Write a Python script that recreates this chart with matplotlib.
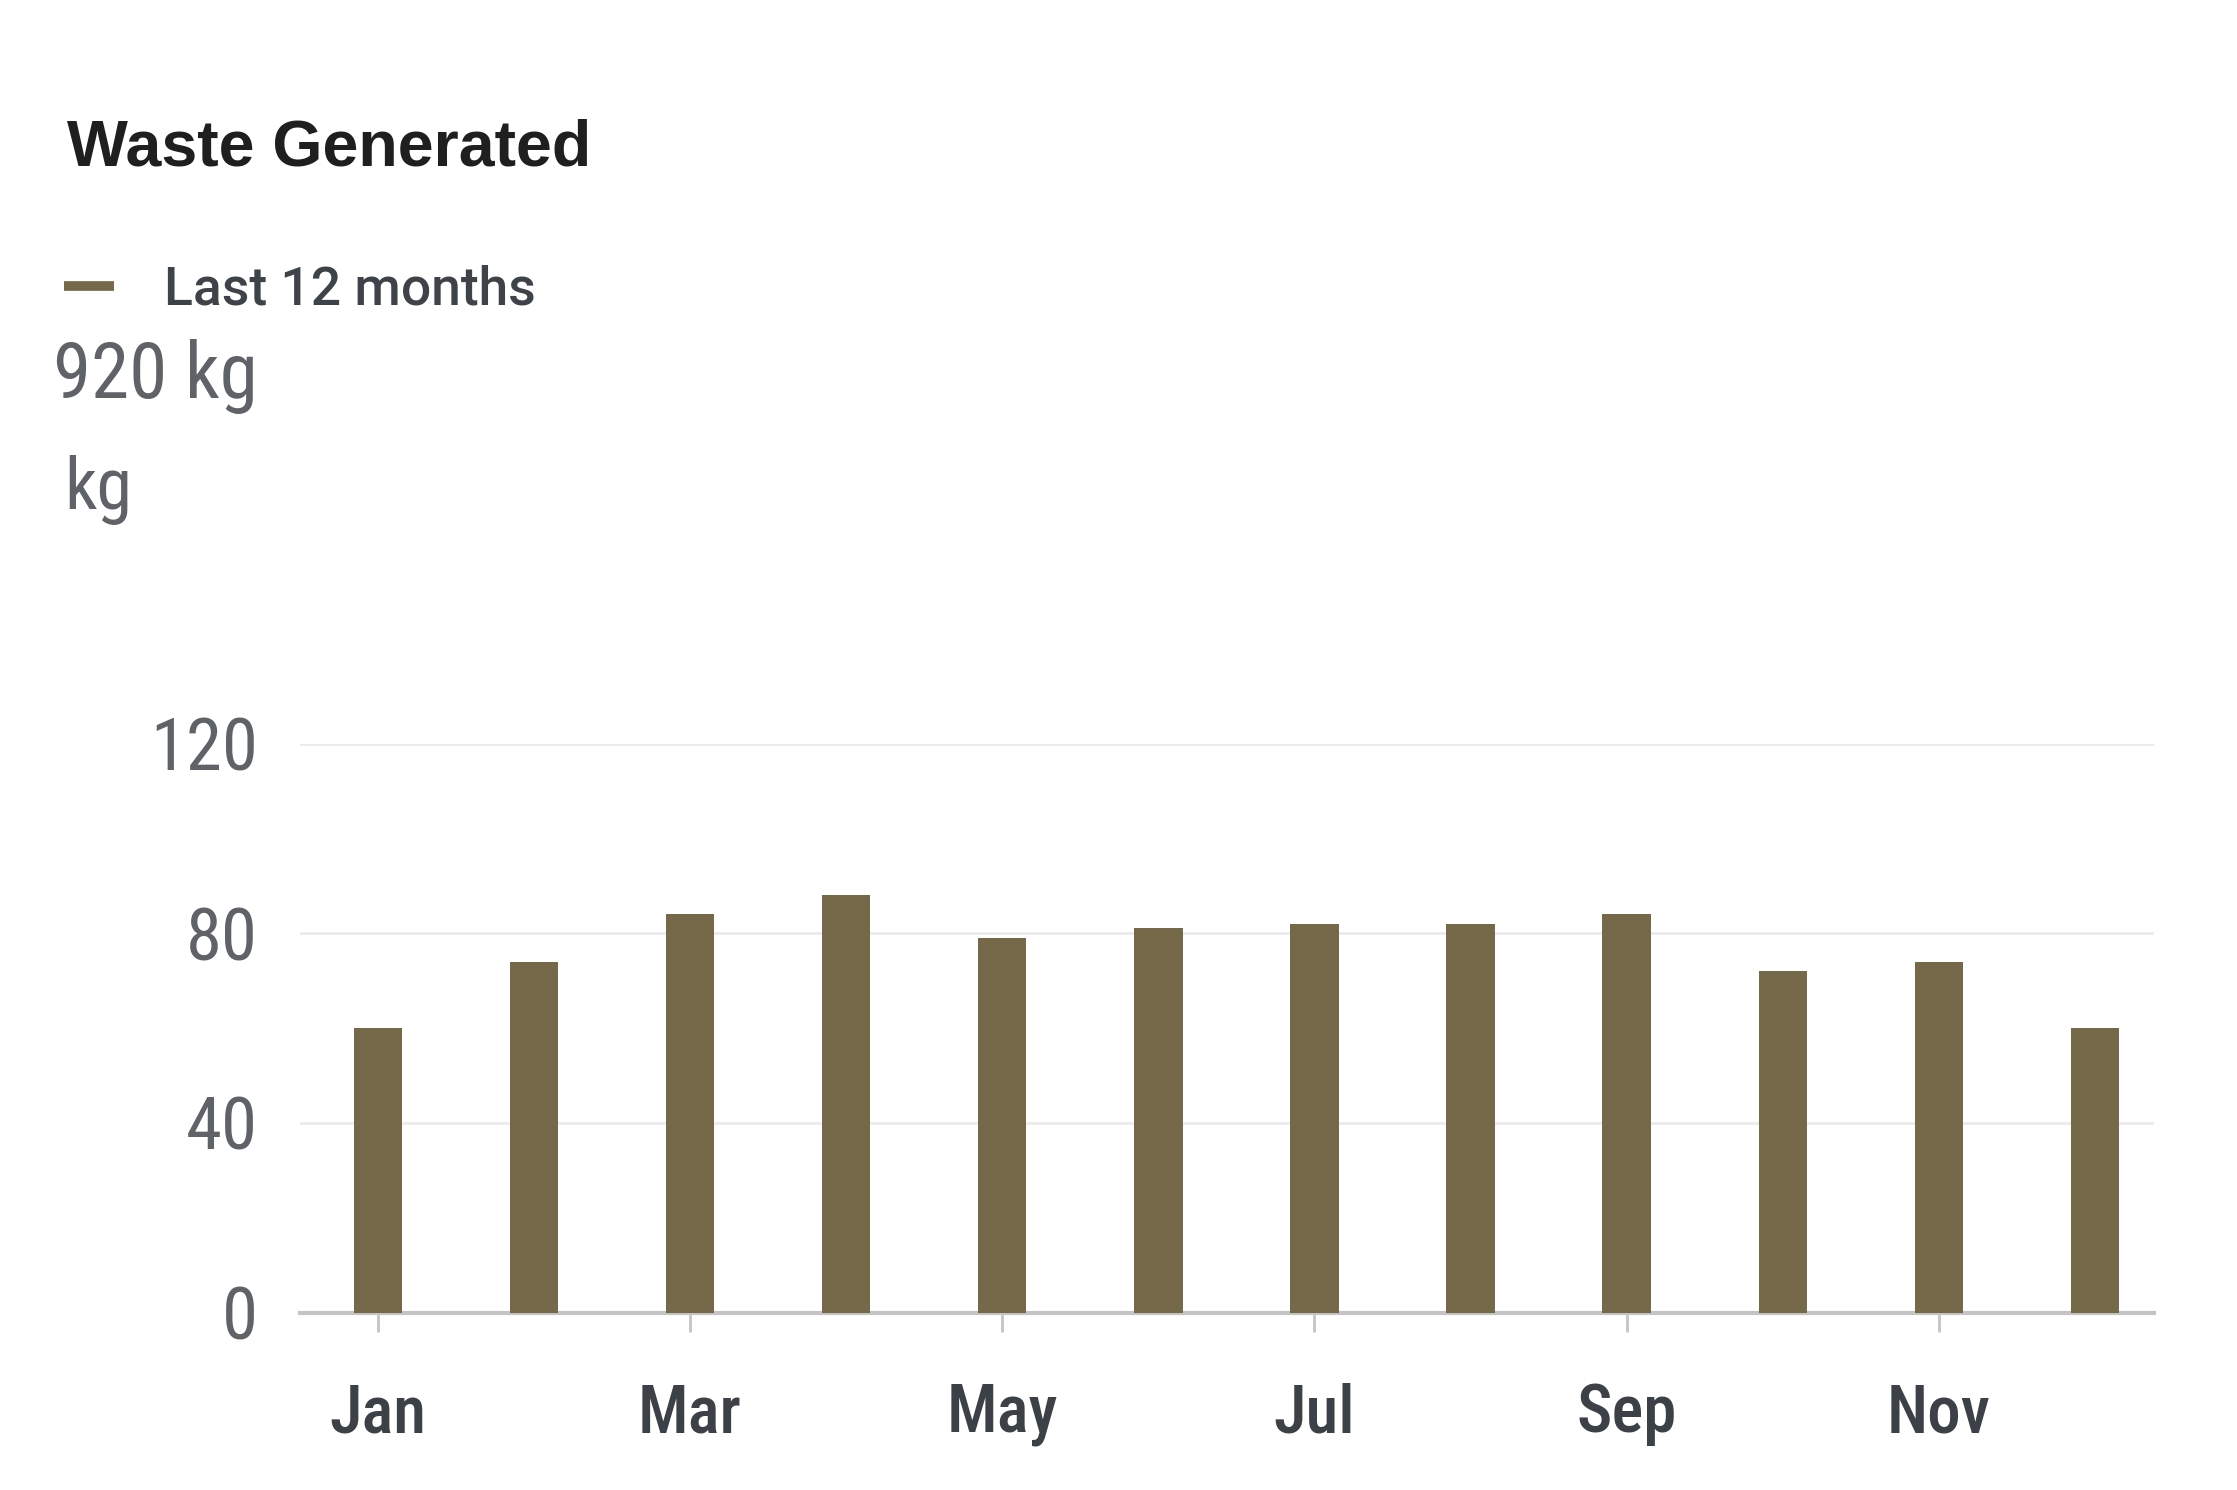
import matplotlib.pyplot as plt
from matplotlib import font_manager

months = ['Jan', 'Feb', 'Mar', 'Apr', 'May', 'Jun',
          'Jul', 'Aug', 'Sep', 'Oct', 'Nov', 'Dec']
waste_kg = [60, 74, 84, 88, 79, 81, 82, 82, 84, 72, 74, 60]
y_ticks = [0, 40, 80, 120]
title = 'Waste Generated'
series_name = 'Last 12 months'
total_label = '920 kg'
unit_label = 'kg'

# narrow sans if there is one, else Liberation Sans (sizes get fitted to width below)
names = {f.name for f in font_manager.fontManager.ttflist}
narrow = 'Liberation Sans'
for cand in ['Roboto Condensed', 'Liberation Sans Narrow', 'Archivo Narrow', 'PT Sans Narrow']:
    if cand in names:
        narrow = cand
        break
plt.rcParams['font.family'] = [narrow, 'DejaVu Sans']

bar_color = '#76694a'
W, H = 2237, 1490

fig = plt.figure(figsize=(W / 100, H / 100), dpi=100)
ax = fig.add_axes([0.134, 0.119, 0.829, 0.382])

x = list(range(len(months)))
ax.bar(x, waste_kg, width=0.31, color=bar_color, zorder=3)

ax.set_ylim(0, 120)
ax.set_xlim(-0.5, 11.38)
ax.set_yticks(y_ticks)
ax.set_yticklabels([str(v) for v in y_ticks], fontsize=50, color='#5f6368')
ax.set_xticks(x[::2])
ax.set_xticklabels(months[::2], fontsize=46, color='#3c4148', fontweight='medium')

ax.grid(axis='y', color='#ebebeb', linewidth=2, zorder=0)
for side in ['top', 'right', 'left']:
    ax.spines[side].set_visible(False)
ax.spines['bottom'].set_color('#c4c4c4')
ax.spines['bottom'].set_linewidth(3)
ax.tick_params(axis='y', length=0, pad=30)
ax.tick_params(axis='x', length=14, width=2, color='#c4c4c4', pad=36)

# header texts
t_title = fig.text(67 / W, 1 - 148 / H, title, fontsize=50, fontweight='bold',
                   family=['Liberation Sans', 'DejaVu Sans'],
                   color='#1f1f1f', va='center', ha='left')
fig.add_artist(plt.Line2D([64 / W, 114 / W], [1 - 286 / H, 1 - 286 / H],
                          color=bar_color, linewidth=7, solid_capstyle='butt'))
t_leg = fig.text(164 / W, 1 - 290 / H, series_name, fontsize=44, fontweight='medium',
                 family=['Roboto', 'Liberation Sans', 'DejaVu Sans'],
                 color='#3d4349', va='center', ha='left')
t_total = fig.text(53 / W, 1 - 376 / H, total_label, fontsize=52,
                   color='#5f6368', va='center', ha='left')
t_unit = fig.text(64 / W, 1 - 490 / H, unit_label, fontsize=52,
                  color='#5f6368', va='center', ha='left')

# fit font sizes to the widths seen in the reference (pixels)
fig.canvas.draw()
r = fig.canvas.get_renderer()
for t, target in [(t_title, 525), (t_leg, 372), (t_total, 205), (t_unit, 68)]:
    w = t.get_window_extent(r).width
    t.set_fontsize(t.get_fontsize() * target / w)

ylab = ax.get_yticklabels()
k = 108 / ylab[-1].get_window_extent(r).width
for lab in ylab:
    lab.set_fontsize(lab.get_fontsize() * k)
xlab = ax.get_xticklabels()
k = 104 / xlab[1].get_window_extent(r).width
for lab in xlab:
    lab.set_fontsize(lab.get_fontsize() * k)

fig.savefig('out.png', dpi=100, facecolor='white')
